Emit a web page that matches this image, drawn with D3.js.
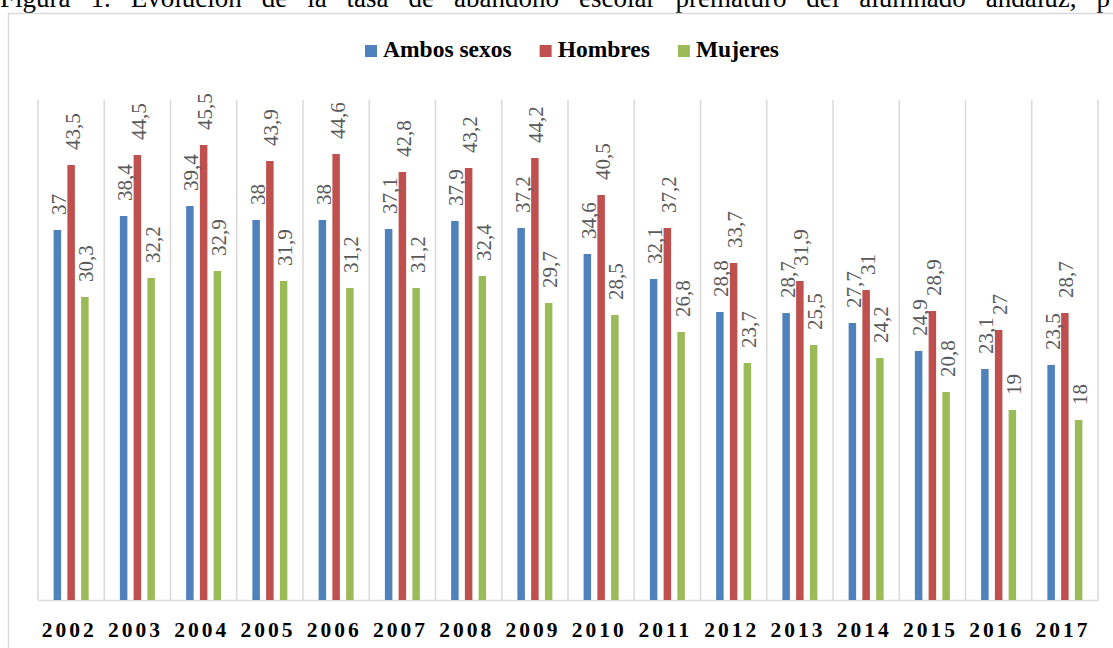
<!DOCTYPE html>
<html>
<head>
<meta charset="utf-8">
<script src="https://cdn.jsdelivr.net/npm/d3@7"></script>
<style>
  html, body { margin: 0; padding: 0; background: #fff; }
  svg { display: block; }
  .serif { font-family: "Liberation Serif", "Tinos", "Times New Roman", Times, "DejaVu Serif", serif; }
</style>
</head>
<body>
<svg id="chart" width="1113" height="648"></svg>
<script>
// Tasa de abandono escolar prematuro (%), por sexo
const years = ["2002","2003","2004","2005","2006","2007","2008","2009",
               "2010","2011","2012","2013","2014","2015","2016","2017"];
const seriesNames = ["Ambos sexos", "Hombres", "Mujeres"];
const ambos   = [37, 38.4, 39.4, 38, 38, 37.1, 37.9, 37.2, 34.6, 32.1, 28.8, 28.7, 27.7, 24.9, 23.1, 23.5];
const hombres = [43.5, 44.5, 45.5, 43.9, 44.6, 42.8, 43.2, 44.2, 40.5, 37.2, 33.7, 31.9, 31, 28.9, 27, 28.7];
const mujeres = [30.3, 32.2, 32.9, 31.9, 31.2, 31.2, 32.4, 29.7, 28.5, 26.8, 23.7, 25.5, 24.2, 20.8, 19, 18];
const colors  = ["#4F81BD", "#C0504D", "#9BBB59"];
const caption = "Figura 1. Evolución de la tasa de abandono escolar prematuro del alumnado andaluz, p";

const valuesBySeries = [ambos, hombres, mujeres];

const svg = d3.select("#chart");

// Caption line above the chart frame, justified word by word
const capWords = caption.split(" ");
const cap = svg.append("g").attr("class", "serif")
  .style("font-size", "27px").style("fill", "#000");
const capNodes = capWords.map(w => cap.append("text").attr("y", 7).text(w));
const widths = capNodes.map(n => n.node().getComputedTextLength());
const gap = (1110 - d3.sum(widths)) / (capWords.length - 1);
let cx0 = 0;
capNodes.forEach((n, i) => { n.attr("x", cx0); cx0 += widths[i] + gap; });

// Chart frame
svg.append("rect")
  .attr("x", 8.5).attr("y", 13.5)
  .attr("width", 1130).attr("height", 700)
  .attr("fill", "#fff")
  .attr("stroke", "#d9d9d9")
  .attr("stroke-width", 1.5);

const plot = { left: 38, right: 1098, top: 100, bottom: 600 };

const x0 = d3.scaleBand()
  .domain(years)
  .range([plot.left, plot.right])
  .paddingInner(0).paddingOuter(0);

const groupW = 41.25;
const x1 = d3.scaleBand()
  .domain(seriesNames)
  .range([(x0.bandwidth() - groupW) / 2, (x0.bandwidth() + groupW) / 2])
  .paddingInner(0.4545)
  .paddingOuter(0.2273);

const y = d3.scaleLinear()
  .domain([0, 50])
  .range([plot.bottom, plot.top]);

// Vertical category separators
const gridXs = years.map(yr => x0(yr)).concat([plot.right]);
svg.append("g")
  .selectAll("line")
  .data(gridXs)
  .join("line")
  .attr("x1", d => d).attr("x2", d => d)
  .attr("y1", plot.top).attr("y2", plot.bottom)
  .attr("stroke", "#d9d9d9")
  .attr("stroke-width", 1.5);

// Category axis
const xAxis = svg.append("g")
  .attr("transform", `translate(0,${plot.bottom})`)
  .call(d3.axisBottom(x0).tickSize(0).tickPadding(0));
xAxis.attr("font-family", null).attr("font-size", null);
xAxis.select(".domain").attr("stroke", "#d9d9d9").attr("stroke-width", 1.5);
xAxis.selectAll("text")
  .attr("class", "serif")
  .attr("y", 37)
  .attr("dy", 0)
  .attr("dx", -2)
  .style("font-size", "21.5px")
  .style("font-weight", "bold")
  .style("letter-spacing", "3px")
  .style("fill", "#000");

const fmt = v => String(v).replace(".", ",");

// Bars and rotated value labels
const rows = [];
years.forEach((yr, i) => {
  seriesNames.forEach((s, j) => {
    rows.push({ year: yr, series: s, value: valuesBySeries[j][i], color: colors[j] });
  });
});

svg.append("g")
  .selectAll("rect")
  .data(rows)
  .join("rect")
  .attr("x", d => x0(d.year) + x1(d.series))
  .attr("y", d => y(d.value))
  .attr("width", x1.bandwidth())
  .attr("height", d => y(0) - y(d.value))
  .attr("fill", d => d.color);

svg.append("g")
  .attr("class", "serif")
  .style("font-size", "21px")
  .style("fill", "#595959")
  .selectAll("text")
  .data(rows)
  .join("text")
  .attr("transform", d => {
    const cx = x0(d.year) + x1(d.series) + x1.bandwidth() / 2;
    return `translate(${cx + 8.5},${y(d.value) - 15}) rotate(-90)`;
  })
  .attr("text-anchor", "start")
  .text(d => fmt(d.value));

// Legend centred above the plot
const legend = svg.append("g").attr("class", "serif");
const items = legend.selectAll("g")
  .data(seriesNames)
  .join("g");
items.append("rect")
  .attr("width", 12).attr("height", 12)
  .attr("y", 45)
  .attr("fill", (d, i) => colors[i]);
items.append("text")
  .attr("x", 18).attr("y", 57)
  .style("font-size", "23.5px")
  .style("font-weight", "bold")
  .style("fill", "#000")
  .text(d => d);

let cursor = 0;
const offsets = [];
items.each(function () {
  const w = d3.select(this).select("text").node().getComputedTextLength();
  offsets.push(cursor);
  cursor += 18 + w + 28;
});
const totalW = cursor - 28;
const startX = 572 - totalW / 2;
items.attr("transform", (d, i) => `translate(${startX + offsets[i]},0)`);
</script>
</body>
</html>
